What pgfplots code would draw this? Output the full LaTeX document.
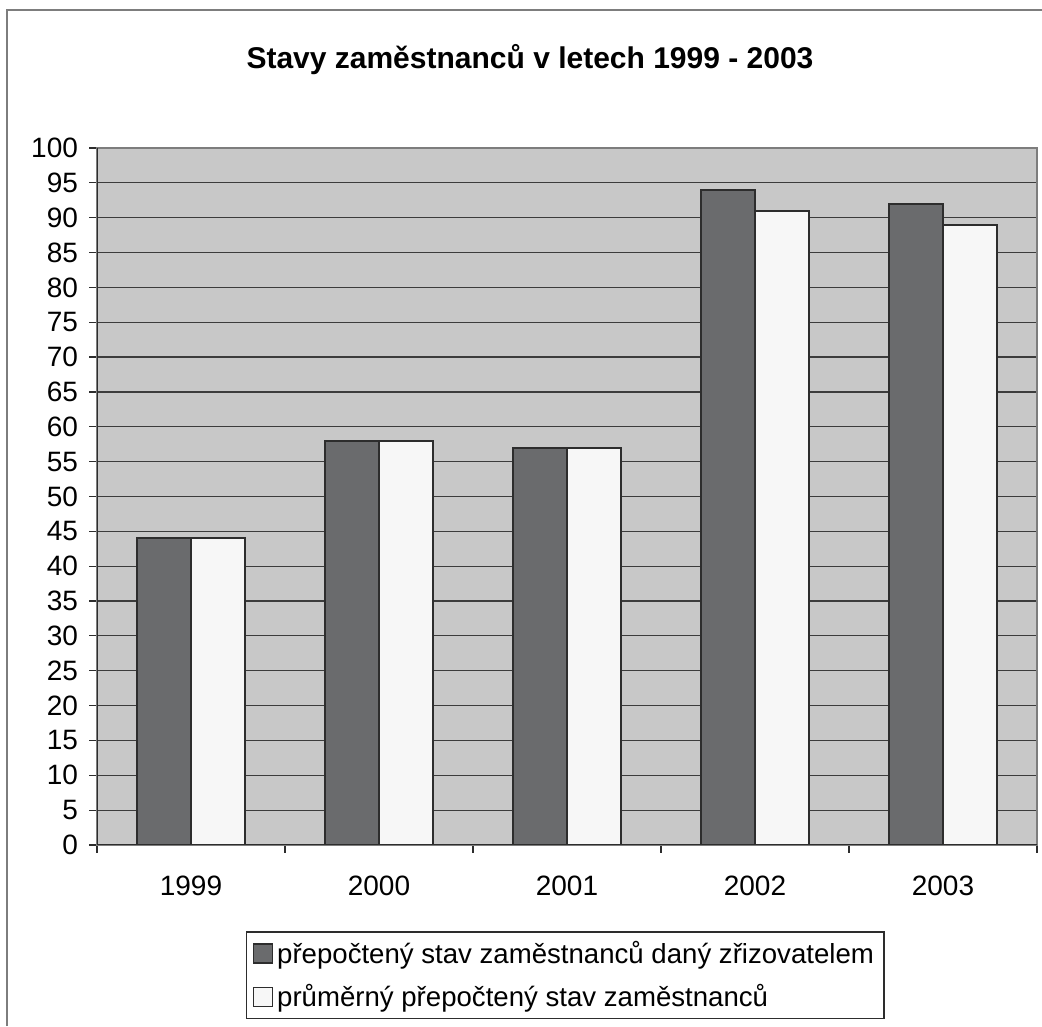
\documentclass[border=0pt]{standalone}
\usepackage{pgfplots}
\pgfplotsset{compat=1.18}
\usepackage{pgfplotstable}
\usepackage{fontspec}
\setmainfont{Liberation Sans}

\definecolor{plotbg}{RGB}{200,200,200}
\definecolor{bardark}{RGB}{106,107,109}
\definecolor{barlight}{RGB}{247,247,247}
\definecolor{edge}{RGB}{45,45,45}
\definecolor{gridc}{RGB}{60,60,60}
\definecolor{framec}{RGB}{125,125,125}

% stavy zamestnancu: x = rok (0 = 1999)
\pgfplotstableread{
x  prep  prum
0  44    44
1  58    58
2  57    57
3  94    91
4  92    89
}\stavy

\begin{document}
\begin{tikzpicture}
\useasboundingbox (0pt,0pt) rectangle (521pt,513pt);
\draw[framec, line width=1pt] (3.5pt,0pt) -- (3.5pt,508pt) -- (521pt,508pt);
\node[font=\fontsize{15}{18}\selectfont\bfseries] at (265pt,483pt)
  {Stavy zaměstnanců v letech 1999 - 2003};
\begin{axis}[
    at={(48.5pt,90.5pt)}, anchor=south west,
    scale only axis, width=470pt, height=348.5pt,
    ybar=0pt, bar width=27pt,
    xmin=-0.5, xmax=4.5, ymin=0, ymax=100,
    ytick={0,5,...,100},
    xtick={-0.5,0.5,...,4.5},
    xticklabels={1999,2000,2001,2002,2003},
    x tick label as interval,
    xtick pos=bottom, ytick pos=left,
    tick align=outside, major tick length=4pt,
    tick style={draw=edge, line width=0.6pt},
    axis background/.style={fill=plotbg},
    axis line style={draw=framec, line width=0.8pt},
    ymajorgrids, major grid style={draw=gridc, line width=0.6pt},
    /pgf/number format/assume math mode=true,
    ticklabel style={font=\fontsize{14}{16}\selectfont},
    yticklabel style={xshift=-2pt},
    xticklabel style={yshift=-8pt},
    legend style={at={(0.1585,-0.124)}, anchor=north west, draw=edge,
      fill=white, font=\fontsize{13.8}{16}\selectfont, cells={anchor=west},
      row sep=5pt, inner xsep=3pt, inner ysep=2.5pt, line width=0.6pt},
  ]
\addplot[fill=bardark, draw=edge, line width=0.9pt,
  legend image code/.code={\draw[fill=bardark, draw=edge, line width=0.8pt] (0pt,-4.75pt) rectangle (9.5pt,4.75pt);}]
  table[x=x, y=prep] {\stavy};
\addplot[fill=barlight, draw=edge, line width=0.9pt,
  legend image code/.code={\draw[fill=barlight, draw=edge, line width=0.8pt] (0pt,-4.75pt) rectangle (9.5pt,4.75pt);}]
  table[x=x, y=prum] {\stavy};
\draw[edge, line width=0.8pt] (rel axis cs:0,1) -- (rel axis cs:0,0) -- (rel axis cs:1,0);
\legend{přepočtený stav zaměstnanců daný zřizovatelem, průměrný přepočtený stav zaměstnanců}
\end{axis}
\end{tikzpicture}
\end{document}
